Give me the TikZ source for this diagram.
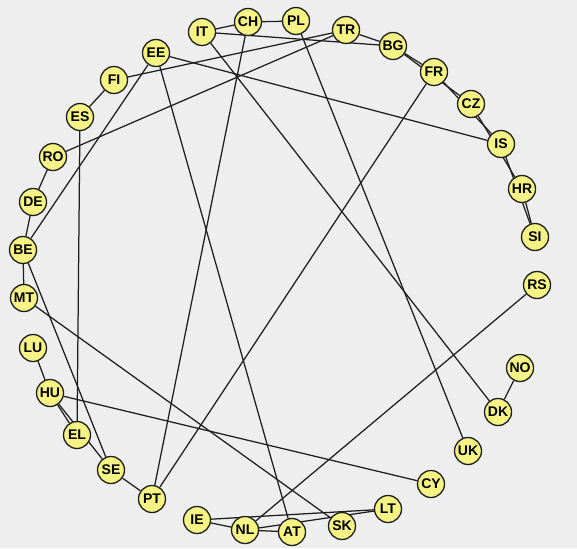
\documentclass[tikz,border=0pt]{standalone}
\usepackage{fontspec}
\setmainfont{Liberation Sans}
\usepackage{tikz}
\usetikzlibrary{backgrounds}
\definecolor{cbg}{HTML}{EEEEEE}
\definecolor{cyellow}{HTML}{F6F385}
\definecolor{cedge}{HTML}{1E1E1E}
\tikzset{
 country/.style={circle,draw=cedge,line width=1.3pt,fill=cyellow,minimum size=27pt,
   inner sep=0pt,font=\bfseries\fontsize{14}{14}\selectfont},
 link/.style={line width=1.25pt,draw=cedge}
}
\begin{document}
\begin{tikzpicture}[x=1pt,y=-1pt]
 \node[country] (IT) at (202,32) {IT};
 \node[country] (CH) at (248,22) {CH};
 \node[country] (PL) at (296,21) {PL};
 \node[country] (TR) at (346,30) {TR};
 \node[country] (BG) at (393,46) {BG};
 \node[country] (FR) at (434,72) {FR};
 \node[country] (CZ) at (471,104) {CZ};
 \node[country] (IS) at (501,144) {IS};
 \node[country] (HR) at (522,189) {HR};
 \node[country] (SI) at (535,237) {SI};
 \node[country] (RS) at (537,285) {RS};
 \node[country] (NO) at (520,368) {NO};
 \node[country] (DK) at (498,412) {DK};
 \node[country] (UK) at (468,451) {UK};
 \node[country] (CY) at (431,484) {CY};
 \node[country] (LT) at (388,509) {LT};
 \node[country] (SK) at (342,526) {SK};
 \node[country] (AT) at (292,532) {AT};
 \node[country] (NL) at (245,530) {NL};
 \node[country] (IE) at (197,520) {IE};
 \node[country] (PT) at (152,499) {PT};
 \node[country] (SE) at (111,470) {SE};
 \node[country] (EL) at (77,435) {EL};
 \node[country] (HU) at (50,393) {HU};
 \node[country] (LU) at (33,348) {LU};
 \node[country] (MT) at (24,298) {MT};
 \node[country] (BE) at (23,250) {BE};
 \node[country] (DE) at (33,202) {DE};
 \node[country] (RO) at (53,157) {RO};
 \node[country] (ES) at (80,117) {ES};
 \node[country] (FI) at (114,80) {FI};
 \node[country] (EE) at (156,53) {EE};
 \begin{scope}[on background layer]
 \fill[cbg] (0,0) rectangle (577,548);
 % top arc
 \draw[link] (IT)--(CH);
 \draw[link] (CH)--(PL);
 \draw[link] (IT)--(BG);
 \draw[link] (TR)--(BG);
 \draw[link] (BG)--(FR);
 \draw[link] (BG)--(CZ);
 \draw[link] (FR)--(IS);
 \draw[link] (CZ)--(HR);
 \draw[link] (IS)--(SI);
 \draw[link] (HR)--(SI);
 % long chords
 \draw[link] (EE)--(IS);
 \draw[link] (EE)--(BE);
 \draw[link] (EE)--(AT);
 \draw[link] (FI)--(TR);
 \draw[link] (RO)--(TR);
 \draw[link] (IT)--(DK);
 \draw[link] (PL)--(UK);
 \draw[link] (CH)--(PT);
 \draw[link] (FR)--(PT);
 \draw[link] (MT)--(SK);
 \draw[link] (HU)--(CY);
 \draw[link] (NL)--(RS);
 % left arc
 \draw[link] (ES)--(FI);
 \draw[link] (ES)--(EL);
 \draw[link] (RO)--(DE);
 \draw[link] (DE)--(BE);
 \draw[link] (BE)--(MT);
 \draw[link] (BE)--(SE);
 \draw[link] (LU)--(HU);
 \draw[link] (HU)--(EL);
 \draw[link] (HU)--(SE);
 \draw[link] (SE)--(PT);
 % bottom
 \draw[link] (IE)--(NL);
 \draw[link] (IE)--(LT);
 \draw[link] (NL)--(AT);
 \draw[link] (NL)--(LT);
 \draw[link] (NO)--(DK);
 \end{scope}
\end{tikzpicture}
\end{document}
